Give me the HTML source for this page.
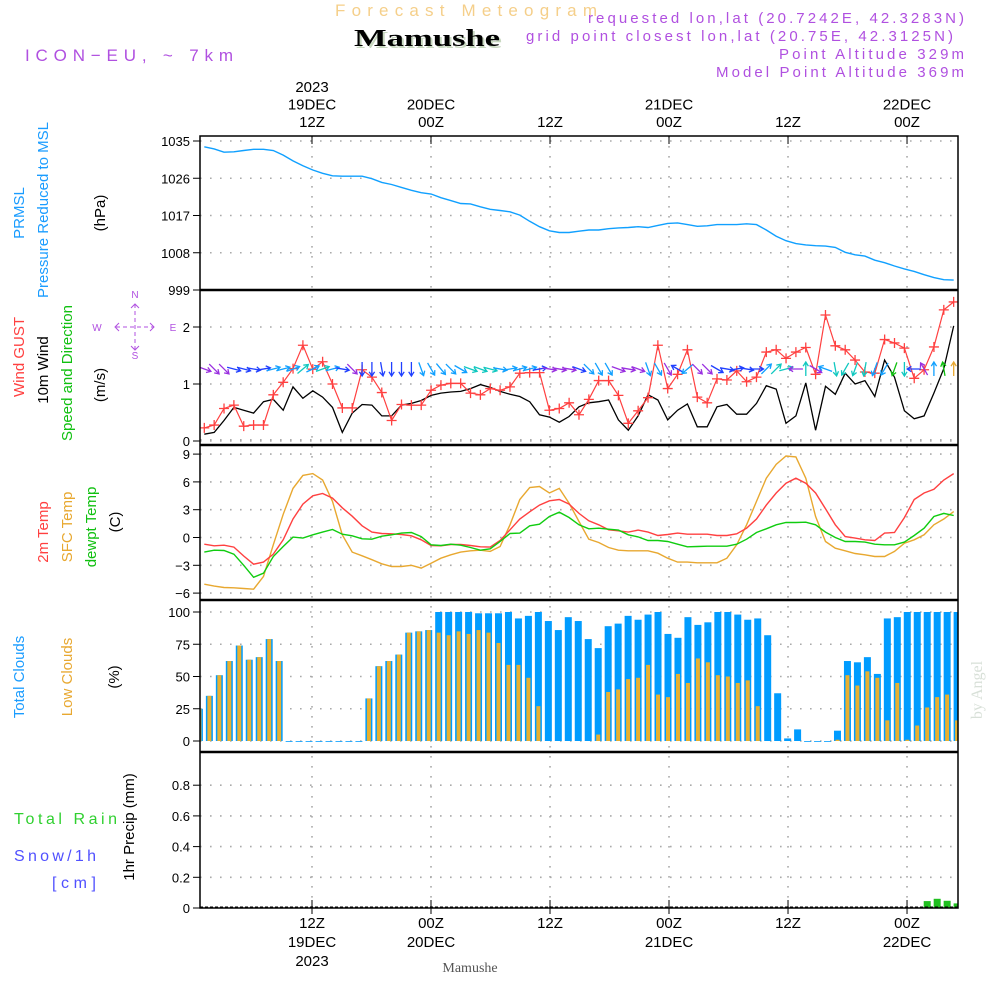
<!DOCTYPE html>
<html><head><meta charset="utf-8"><title>Forecast Meteogram - Mamushe</title>
<style>
html,body{margin:0;padding:0;background:#fff;}
svg{display:block;font-family:"Liberation Sans",sans-serif;}
</style></head>
<body>
<svg id="chart" xmlns="http://www.w3.org/2000/svg" width="1000" height="1000" viewBox="0 0 1000 1000">
<rect x="0" y="0" width="1000" height="1000" fill="#fff"/>
<g id="header">
<text x="335" y="16" font-size="17" fill="#f5cf8a" textLength="262" lengthAdjust="spacing">Forecast Meteogram</text>
<text x="356" y="48" font-size="24" font-weight="bold" font-family="Liberation Serif,serif" fill="#c8d8c0" textLength="146" lengthAdjust="spacingAndGlyphs">Mamushe</text>
<text x="354" y="46" font-size="24" font-weight="bold" font-family="Liberation Serif,serif" fill="#000" textLength="146" lengthAdjust="spacingAndGlyphs">Mamushe</text>
<text x="25" y="61" font-size="17" fill="#b050e0" textLength="208" lengthAdjust="spacing">ICON−EU, ~ 7km</text>
<text x="964" y="23" font-size="15" fill="#b050e0" text-anchor="end" textLength="376" lengthAdjust="spacing">requested lon,lat (20.7242E, 42.3283N)</text>
<text x="953" y="41" font-size="15" fill="#b050e0" text-anchor="end" textLength="427" lengthAdjust="spacing">grid point closest lon,lat (20.75E, 42.3125N)</text>
<text x="964" y="59" font-size="15" fill="#b050e0" text-anchor="end" textLength="185" lengthAdjust="spacing">Point Altitude 329m</text>
<text x="964" y="77" font-size="15" fill="#b050e0" text-anchor="end" textLength="248" lengthAdjust="spacing">Model Point Altitude 369m</text>
</g>
<g id="leftlabels" font-size="15">
<text transform="translate(24,213) rotate(-90)" text-anchor="middle" fill="#1a9cff">PRMSL</text>
<text transform="translate(48,210) rotate(-90)" text-anchor="middle" fill="#1a9cff">Pressure Reduced to MSL</text>
<text transform="translate(105,213) rotate(-90)" text-anchor="middle" fill="#000">(hPa)</text>
<text transform="translate(24,357) rotate(-90)" text-anchor="middle" fill="#ff4040">Wind GUST</text>
<text transform="translate(48,370) rotate(-90)" text-anchor="middle" fill="#000">10m Wind</text>
<text transform="translate(72,373) rotate(-90)" text-anchor="middle" fill="#10c010">Speed and Direction</text>
<text transform="translate(105,385) rotate(-90)" text-anchor="middle" fill="#000">(m/s)</text>
<text transform="translate(48,532) rotate(-90)" text-anchor="middle" fill="#ff4040">2m Temp</text>
<text transform="translate(72,527) rotate(-90)" text-anchor="middle" fill="#e8a830">SFC Temp</text>
<text transform="translate(96,527) rotate(-90)" text-anchor="middle" fill="#10c010">dewpt Temp</text>
<text transform="translate(120,522) rotate(-90)" text-anchor="middle" fill="#000">(C)</text>
<text transform="translate(24,677) rotate(-90)" text-anchor="middle" fill="#1a9cff">Total Clouds</text>
<text transform="translate(72,677) rotate(-90)" text-anchor="middle" fill="#e8a830">Low Clouds</text>
<text transform="translate(119,677) rotate(-90)" text-anchor="middle" fill="#000">(%)</text>
<text transform="translate(134,827) rotate(-90)" text-anchor="middle" fill="#000">1hr Precip (mm)</text>
<text x="14" y="824" font-size="16" fill="#30d030" textLength="103" lengthAdjust="spacing">Total   Rain</text>
<text x="14" y="861" font-size="16" fill="#5050ff" textLength="82" lengthAdjust="spacing">Snow/1h</text>
<text x="52" y="888" font-size="16" fill="#5050ff" textLength="44" lengthAdjust="spacing">[cm]</text>
<g fill="#b050e0" stroke="#b050e0" font-size="10">
<text x="97" y="331" stroke="none" text-anchor="middle">W</text>
<text x="173" y="331" stroke="none" text-anchor="middle">E</text>
<text x="135" y="298" stroke="none" text-anchor="middle">N</text>
<text x="135" y="359" stroke="none" text-anchor="middle">S</text>
<line x1="116" y1="327" x2="154" y2="327" stroke-dasharray="4,3"/>
<line x1="135" y1="304" x2="135" y2="350" stroke-dasharray="4,3"/>
<polyline points="119,323 115,327 119,331" fill="none"/>
<polyline points="150,323 154,327 150,331" fill="none"/>
<polyline points="131,308 135,304 139,308" fill="none"/>
<polyline points="131,346 135,350 139,346" fill="none"/>
</g>
</g>
<text transform="translate(982,690) rotate(-90)" text-anchor="middle" font-family="Liberation Serif,serif" font-size="16" fill="#d8e0d8">by Angel</text>
<text x="470" y="972" text-anchor="middle" font-family="Liberation Serif,serif" font-size="14" fill="#555">Mamushe</text>
<g id="plot"></g>
</svg>
<script>
// ---- data (hourly, 77 steps) ----
const timeTicks = [12, 24, 36, 48, 60, 72]; // hours since 19DEC 00Z
const topTickLabels = [["2023","19DEC","12Z"],["20DEC","00Z"],["12Z"],["21DEC","00Z"],["12Z"],["22DEC","00Z"]];
const bottomTickLabels = [["12Z","19DEC","2023"],["00Z","20DEC"],["12Z"],["00Z","21DEC"],["12Z"],["00Z","22DEC"]];
const pressure = [1033.6,1033.1,1032.3,1032.4,1032.7,1033.0,1033.0,1032.7,1031.6,1030.2,1029.0,1028.0,1027.2,1026.6,1026.5,1026.5,1026.5,1025.9,1025.0,1024.5,1023.8,1023.1,1022.5,1022.2,1021.3,1020.6,1019.9,1019.8,1019.1,1018.5,1018.2,1017.9,1017.1,1015.6,1014.3,1013.3,1012.9,1012.9,1013.2,1013.5,1013.5,1013.8,1014.0,1014.1,1014.3,1014.1,1014.6,1015.1,1015.2,1014.8,1014.4,1014.5,1014.8,1014.8,1014.8,1015.0,1014.8,1013.5,1012.0,1010.9,1010.2,1009.9,1009.7,1009.6,1009.3,1008.1,1007.5,1007.2,1006.2,1005.6,1004.8,1004.1,1003.5,1002.7,1002.0,1001.5,1001.4];
const windGust = [0.23,0.28,0.57,0.63,0.26,0.28,0.28,0.81,1.03,1.27,1.68,1.26,1.39,1.0,0.58,0.58,1.25,1.12,0.85,0.36,0.64,0.63,0.63,0.89,0.98,1.01,1.01,0.84,0.81,0.92,0.89,0.95,1.19,1.2,1.2,0.54,0.57,0.67,0.46,0.73,1.06,1.06,0.8,0.31,0.53,0.76,1.68,0.92,1.17,1.6,0.77,0.67,1.09,1.07,1.23,1.04,1.12,1.56,1.6,1.45,1.56,1.64,1.17,2.21,1.67,1.6,1.42,1.21,1.19,1.78,1.72,1.63,1.1,1.25,1.65,2.3,2.44];
const wind10m = [0.12,0.15,0.36,0.59,0.54,0.49,0.69,0.73,0.54,0.95,0.75,0.88,0.77,0.59,0.15,0.49,0.64,0.63,0.44,0.44,0.63,0.66,0.71,0.8,0.84,0.86,0.87,0.92,0.99,0.94,0.87,0.82,0.78,0.69,0.46,0.42,0.33,0.43,0.6,0.67,0.69,0.72,0.37,0.19,0.44,0.81,0.72,0.37,0.54,0.65,0.25,0.25,0.6,0.64,0.47,0.47,0.66,0.97,0.91,0.31,0.44,1.02,0.19,0.96,0.82,1.19,1.0,1.06,0.78,1.42,1.12,0.53,0.39,0.44,0.84,1.27,2.02];
const windDir = [-20,-45,-45,-15,-15,-10,10,15,15,20,40,25,20,15,-10,-45,-90,-90,-80,-90,-90,-90,-70,-60,-50,-45,-30,-20,-20,-15,-10,10,15,15,10,-10,-10,-10,-20,-45,-60,-60,-20,-10,-20,-70,-60,-60,150,-140,-45,-45,-30,-10,10,-10,0,45,45,15,180,90,-30,160,-80,-120,-110,-100,-110,-120,-110,-90,180,120,90,100,90];
const windColor = [0,0,0,1,1,1,1,2,2,2,3,2,3,2,1,0,1,1,1,1,1,1,2,2,2,2,2,3,3,3,2,2,2,2,1,0,0,0,1,2,2,2,0,0,0,2,2,0,1,2,0,0,1,1,1,1,1,2,3,3,0,3,0,2,3,3,3,3,2,2,4,3,1,0,2,4,5];
const temp2m = [-0.72,-0.9,-0.83,-1.04,-2.0,-2.88,-2.66,-1.8,-0.25,2.0,3.6,4.5,4.75,4.25,3.2,2.3,1.26,0.58,0.43,0.4,0.32,0.18,-0.25,-0.86,-0.9,-0.76,-0.76,-0.86,-1.0,-1.04,-0.32,0.83,2.0,2.77,3.5,3.96,4.1,3.6,2.6,1.8,1.37,0.83,0.72,0.58,0.8,0.58,0.22,0.32,0.47,0.36,0.36,0.36,0.22,0.22,0.4,1.0,2.0,3.5,4.8,5.86,6.4,5.86,4.8,3.1,1.37,0.1,-0.07,-0.25,-0.32,0.47,0.54,2.15,4.1,4.8,5.2,6.2,6.9];
const tempSfc = [-5.04,-5.25,-5.4,-5.43,-5.5,-5.58,-4.2,-0.79,2.5,5.3,6.7,6.9,6.2,3.9,0.29,-1.58,-1.98,-2.4,-2.84,-3.13,-3.13,-3.0,-3.3,-2.77,-2.23,-1.87,-1.58,-1.44,-1.37,-1.5,-0.97,1.37,4.1,5.4,5.5,4.8,5.3,3.7,1.73,-0.18,-0.54,-1.08,-1.37,-1.44,-1.44,-1.44,-1.69,-2.23,-2.66,-2.66,-2.73,-2.73,-2.73,-2.23,-0.79,1.37,3.9,6.4,7.9,8.8,8.7,6.4,2.27,-0.43,-1.15,-1.44,-1.73,-1.87,-2.05,-2.05,-1.5,-0.61,-0.25,0.29,1.37,2.0,2.8];
const dewpt = [-1.58,-1.37,-1.4,-1.8,-3.0,-4.3,-3.85,-2.05,-0.97,0.04,-0.07,0.29,0.58,0.86,0.36,0.18,-0.14,-0.18,0.14,0.29,0.47,0.54,0.1,-0.79,-0.86,-0.72,-0.83,-1.08,-1.37,-1.22,-0.43,0.43,0.47,1.26,1.44,2.27,2.73,2.16,1.37,0.94,1.0,0.9,0.8,0.29,0.07,-0.32,-0.32,-0.43,-0.72,-1.0,-0.97,-0.94,-0.94,-0.94,-0.72,-0.18,0.54,0.94,1.37,1.62,1.62,1.65,1.37,0.58,0,-0.43,-0.43,-0.5,-0.72,-0.79,-0.79,-0.5,0.22,1.0,2.27,2.6,2.37];
const totalClouds = [25,35,51,62,74,63,65,79,62,0,0,0,0,0,0,0,0,33,58,62,67,84,85,86,100,100,100,100,99,99,99,100,95,97,100,93,86,96,93,79,72,89,91,97,94,98,100,83,80,96,90,92,100,100,98,94,95,82,37,2,9,0,0,0,8,62,61,65,52,95,96,100,100,100,100,100,100];
const lowClouds = [25,35,51,62,74,63,65,79,62,0,0,0,0,0,0,0,0,33,58,62,67,84,85,86,84,82,85,83,86,84,76,59,59,49,27,0,0,0,0,0,5,38,40,48,49,59,36,34,52,45,64,61,51,50,45,47,27,0,0,0,0,0,0,0,1,51,43,54,49,16,45,1,12,26,34,36,16];
const precip = [0,0,0,0,0,0,0,0,0,0,0,0,0,0,0,0,0,0,0,0,0,0,0,0,0,0,0,0,0,0,0,0,0,0,0,0,0,0,0,0,0,0,0,0,0,0,0,0,0,0,0,0,0,0,0,0,0,0,0,0,0,0,0,0,0,0,0,0,0,0,0,0,0,0.045,0.06,0.047,0.03];
const pressureTicks = [1035,1026,1017,1008,999];
const windTicks = [0,1,2];
const tempTicks = [9,6,3,0,-3,-6];
const cloudTicks = [0,25,50,75,100];
const precipTicks = [0,0.2,0.4,0.6,0.8];
const windPalette = ["#9a30e0","#2040ff","#10a0ff","#10c8c0","#10c010","#e8a830"];

// ---- axes ----
const X0 = 200, X1 = 958;
function xHour(h){ return 312 + (h-12)*9.917; }
function xPt(i){ return 204.3 + i*9.86; }
function xBar(i){ return 199.4 + i*9.97; }
function yP(v){ return 141 + (1035-v)*(149/36); }
function yW(v){ return 441 - v*57; }
function yT(v){ return 537.5 - v*(27.8/3); }
function yC(v){ return 741 - v*1.29; }
function yR(v){ return 908 - v*153.5; }

const NS="http://www.w3.org/2000/svg";
const plot=document.getElementById('plot');
function mk(tag,attrs,parent){const e=document.createElementNS(NS,tag);for(const k in attrs)e.setAttribute(k,attrs[k]);(parent||plot).appendChild(e);return e;}

const defs=mk('defs',{});
const cp=mk('clipPath',{id:'clipPlot'},defs);
mk('rect',{x:X0,y:136,width:X1-X0,height:772},cp);

const grid=mk('g',{stroke:'#aaa','stroke-width':1.6,'stroke-dasharray':'1.6,8.4',fill:'none'});


timeTicks.forEach(h=>{ mk('line',{x1:xHour(h),x2:xHour(h),y1:136,y2:908},grid); });
function hgrid(ticks,fy,top,bot){ ticks.forEach(t=>{const y=fy(t); if(y>top+1&&y<bot-1) mk('line',{x1:X0,x2:X1,y1:y,y2:y},grid);}); }
hgrid(pressureTicks,yP,136,290); hgrid(windTicks.concat([0.02]),yW,290,445); hgrid(tempTicks,yT,445,600); hgrid(cloudTicks,yC,600,752); hgrid(precipTicks,yR,752,908);

const lab=mk('g',{'font-size':13,fill:'#000','text-anchor':'end'});


function ylabels(ticks,fy,fmt){ ticks.forEach(t=>{const y=fy(t); const tx=mk('text',{x:190,y:y+5},lab); tx.textContent=fmt?fmt(t):String(t).replace('-','−'); mk('line',{x1:193,x2:200,y1:y,y2:y,stroke:'#000'},lab);}); }
ylabels(pressureTicks,yP); ylabels(windTicks,yW); ylabels(tempTicks,yT); ylabels(cloudTicks,yC); ylabels(precipTicks,yR,t=>t===0?'0':t.toFixed(1));

const tl=mk('g',{'font-size':15,fill:'#000','text-anchor':'middle'});


timeTicks.forEach((h,k)=>{
  const x=xHour(h);
  const top=topTickLabels[k];
  top.forEach((s,j)=>{const t=mk('text',{x:x,y:127-(top.length-1-j)*17.5},tl);t.textContent=s;});
  bottomTickLabels[k].forEach((s,j)=>{const t=mk('text',{x:x,y:928+j*19},tl);t.textContent=s;});
  mk('line',{x1:x,x2:x,y1:136,y2:144,stroke:'#000'},tl);
  mk('line',{x1:x,x2:x,y1:900,y2:914,stroke:'#000'},tl);
});

const data=mk('g',{'clip-path':'url(#clipPlot)'});
function line(arr,fx,fy,color,w,name){
  const p=mk('polyline',{points:arr.map((v,i)=>fx(i).toFixed(1)+','+fy(v).toFixed(1)).join(' '),fill:'none',stroke:color,'stroke-width':w||1.3},data);
  
  
  return p;
}
line(pressure,xPt,yP,'#10a0ff',1.4,'pressure-line');
line(wind10m,xPt,yW,'#000',1.3,'wind-10m-line');
line(windGust,xPt,yW,'#ff4040',1.2,'wind-gust-line');
windGust.forEach((v,i)=>{
  const x=xPt(i),y=yW(v);
  const g=mk('path',{d:`M${x-5},${y}H${x+5}M${x},${y-5}V${y+5}`,stroke:'#ff4040','stroke-width':1.3},data);
  
  
});
windDir.forEach((a,i)=>{
  const r=a*Math.PI/180, L=7, cx=xPt(i), cy=369;
  const dx=Math.cos(r)*L, dy=-Math.sin(r)*L;
  const hx=cx+dx, hy=cy+dy, tx=cx-dx, ty=cy-dy;
  const b1=r+Math.PI*0.82, b2=r-Math.PI*0.82;
  const d=`M${tx.toFixed(1)},${ty.toFixed(1)}L${hx.toFixed(1)},${hy.toFixed(1)}M${(hx+Math.cos(b1)*5).toFixed(1)},${(hy-Math.sin(b1)*5).toFixed(1)}L${hx.toFixed(1)},${hy.toFixed(1)}L${(hx+Math.cos(b2)*5).toFixed(1)},${(hy-Math.sin(b2)*5).toFixed(1)}`;
  const ar=mk('path',{d:d,fill:'none',stroke:windPalette[windColor[i]],'stroke-width':1.3},data);
  
  
});
line(tempSfc,xPt,yT,'#e8a830',1.4,'sfc-temp-line');
line(temp2m,xPt,yT,'#ff4040',1.4,'temp-2m-line');
line(dewpt,xPt,yT,'#10cc10',1.4,'dewpt-line');
totalClouds.forEach((v,i)=>{
  const x=xBar(i);
  const r=mk('rect',{x:x-3.5,y:yC(v),width:7,height:Math.max(yC(0)-yC(v),0.8),fill:'#009cff'},data);
  
  
});
lowClouds.forEach((v,i)=>{
  if(v<=0) return;
  const x=xBar(i);
  const r=mk('rect',{x:x-2,y:yC(v),width:4,height:yC(0)-yC(v),fill:'#e8b030'},data);
  
  
});
precip.forEach((v,i)=>{
  if(v<=0) return;
  const x=xBar(i);
  const r=mk('rect',{x:x-3.5,y:yR(v),width:7,height:yR(0)-yR(v),fill:'#20c020'},data);
  
  
});
mk('line',{x1:X0,x2:X1,y1:907,y2:907,stroke:'#000','stroke-width':1,'stroke-dasharray':'3,2'},data);

const fr=mk('g',{fill:'none',stroke:'#000'});


mk('rect',{x:X0,y:136,width:X1-X0,height:772,'stroke-width':1.5},fr);
[290,445,600,752].forEach(y=>mk('line',{x1:X0,x2:X1,y1:y,y2:y,'stroke-width':2.5},fr));
</script>
</body></html>
